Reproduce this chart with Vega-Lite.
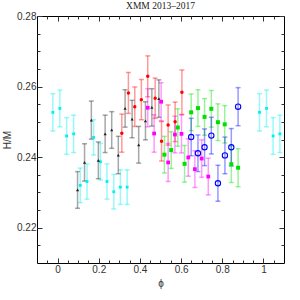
{
  "$schema": "https://vega.github.io/schema/vega-lite/v6.json",
  "autosize": "none",
  "width": 247,
  "height": 247,
  "padding": {"left": 37, "top": 16, "right": 16, "bottom": 37},
  "background": "white",
  "title": {"text": "XMM 2013–2017", "font": "Liberation Serif", "fontSize": 9.5, "fontWeight": "normal", "offset": 1, "color": "#222"},
  "config": {
    "view": {"stroke": "black", "strokeWidth": 1},
    "axis": {"grid": false, "domain": false, "labelFont": "Liberation Sans", "labelFontSize": 10, "labelColor": "#333", "titleFont": "Liberation Sans", "titleFontSize": 10, "titleFontWeight": "normal", "titleColor": "#333", "tickColor": "#333"}
  },
  "data": {"values": [
    {"s":"a","x":-0.023,"y":0.2527,"e":0.0053},
    {"s":"a","x":0.011,"y":0.2538,"e":0.0052},
    {"s":"a","x":0.044,"y":0.2460,"e":0.0052},
    {"s":"a","x":0.078,"y":0.2466,"e":0.0053},
    {"s":"a","x":0.110,"y":0.2320,"e":0.0049},
    {"s":"a","x":0.143,"y":0.2331,"e":0.0050},
    {"s":"a","x":0.175,"y":0.2456,"e":0.0050},
    {"s":"a","x":0.208,"y":0.2387,"e":0.0052},
    {"s":"a","x":0.240,"y":0.2331,"e":0.0050},
    {"s":"a","x":0.273,"y":0.2302,"e":0.0049},
    {"s":"a","x":0.305,"y":0.2315,"e":0.0049},
    {"s":"a","x":0.338,"y":0.2315,"e":0.0049},
    {"s":"a","x":0.981,"y":0.2527,"e":0.0053},
    {"s":"a","x":1.015,"y":0.2538,"e":0.0052},
    {"s":"a","x":1.047,"y":0.2460,"e":0.0052},
    {"s":"a","x":1.080,"y":0.2466,"e":0.0053},
    {"s":"b","x":0.097,"y":0.2307,"e":0.0052},
    {"s":"b","x":0.131,"y":0.2385,"e":0.0053},
    {"s":"b","x":0.164,"y":0.2505,"e":0.0054},
    {"s":"b","x":0.198,"y":0.2391,"e":0.0052},
    {"s":"b","x":0.231,"y":0.2466,"e":0.0053},
    {"s":"b","x":0.263,"y":0.2477,"e":0.0052},
    {"s":"b","x":0.295,"y":0.2406,"e":0.0053},
    {"s":"b","x":0.328,"y":0.2538,"e":0.0053},
    {"s":"b","x":0.362,"y":0.2508,"e":0.0053},
    {"s":"b","x":0.394,"y":0.2435,"e":0.0052},
    {"s":"b","x":0.427,"y":0.2503,"e":0.0054},
    {"s":"b","x":0.458,"y":0.2541,"e":0.0053},
    {"s":"b","x":0.492,"y":0.2566,"e":0.0053},
    {"s":"c","x":0.312,"y":0.2468,"e":0.0054},
    {"s":"c","x":0.344,"y":0.2582,"e":0.0058},
    {"s":"c","x":0.375,"y":0.2543,"e":0.0056},
    {"s":"c","x":0.407,"y":0.2563,"e":0.0057},
    {"s":"c","x":0.438,"y":0.2629,"e":0.0058},
    {"s":"c","x":0.474,"y":0.2567,"e":0.0057},
    {"s":"c","x":0.505,"y":0.2445,"e":0.0056},
    {"s":"c","x":0.537,"y":0.2491,"e":0.0057},
    {"s":"c","x":0.571,"y":0.2500,"e":0.0056},
    {"s":"c","x":0.604,"y":0.2584,"e":0.0063},
    {"s":"d","x":0.438,"y":0.2540,"e":0.0054},
    {"s":"d","x":0.469,"y":0.2467,"e":0.0053},
    {"s":"d","x":0.503,"y":0.2557,"e":0.0054},
    {"s":"d","x":0.537,"y":0.2385,"e":0.0054},
    {"s":"d","x":0.570,"y":0.2464,"e":0.0052},
    {"s":"d","x":0.602,"y":0.2466,"e":0.0054},
    {"s":"d","x":0.635,"y":0.2399,"e":0.0053},
    {"s":"d","x":0.667,"y":0.2366,"e":0.0052},
    {"s":"d","x":0.700,"y":0.2396,"e":0.0053},
    {"s":"d","x":0.732,"y":0.2345,"e":0.0052},
    {"s":"e","x":0.519,"y":0.2407,"e":0.0052},
    {"s":"e","x":0.552,"y":0.2420,"e":0.0052},
    {"s":"e","x":0.584,"y":0.2484,"e":0.0053},
    {"s":"e","x":0.617,"y":0.2381,"e":0.0052},
    {"s":"e","x":0.649,"y":0.2527,"e":0.0052},
    {"s":"e","x":0.682,"y":0.2539,"e":0.0052},
    {"s":"e","x":0.714,"y":0.2514,"e":0.0052},
    {"s":"e","x":0.747,"y":0.2537,"e":0.0052},
    {"s":"e","x":0.779,"y":0.2499,"e":0.0052},
    {"s":"e","x":0.812,"y":0.2493,"e":0.0053},
    {"s":"e","x":0.844,"y":0.2380,"e":0.0052},
    {"s":"e","x":0.877,"y":0.2370,"e":0.0054},
    {"s":"f","x":0.649,"y":0.2457,"e":0.0053},
    {"s":"f","x":0.682,"y":0.2411,"e":0.0052},
    {"s":"f","x":0.714,"y":0.2428,"e":0.0052},
    {"s":"f","x":0.747,"y":0.2461,"e":0.0052},
    {"s":"f","x":0.779,"y":0.2326,"e":0.0051},
    {"s":"f","x":0.813,"y":0.2405,"e":0.0052},
    {"s":"f","x":0.844,"y":0.2428,"e":0.0053},
    {"s":"f","x":0.877,"y":0.2543,"e":0.0054}
  ]},
  "layer": [
    {
      "mark": {"type": "errorbar", "ticks": {"size": 5}, "thickness": 1.5, "opacity": 0.4},
      "encoding": {
        "x": {"field": "x", "type": "quantitative", "title": "ϕ", "scale": {"domain": [-0.1, 1.1], "nice": false, "zero": false},
              "axis": {"orient": "bottom", "values": [0, 0.2, 0.4, 0.6, 0.8, 1], "format": "~g", "tickSize": -5, "labelPadding": 6, "titlePadding": 4}},
        "y": {"field": "y", "type": "quantitative", "title": "H/M", "scale": {"domain": [0.21, 0.28], "nice": false, "zero": false},
              "axis": {"orient": "left", "values": [0.22, 0.24, 0.26, 0.28], "format": ".2f", "tickSize": -5, "labelPadding": 6, "titlePadding": 4}},
        "yError": {"field": "e"},
        "color": {"field": "s", "type": "nominal", "legend": null,
                  "scale": {"domain": ["a","b","c","d","e","f"], "range": ["#00f0f0","#222222","#ff0000","#ff00ff","#00e000","#0000ff"]}}
      }
    },
    {
      "transform": [{"filter": "datum.s != 'f'"}],
      "mark": {"type": "point", "filled": true, "opacity": 1},
      "encoding": {
        "x": {"field": "x", "type": "quantitative", "axis": {"orient": "top", "values": [0, 0.2, 0.4, 0.6, 0.8, 1], "labels": false, "title": null, "tickSize": -5}},
        "y": {"field": "y", "type": "quantitative", "axis": {"orient": "right", "values": [0.22, 0.24, 0.26, 0.28], "labels": false, "title": null, "tickSize": -5}},
        "color": {"field": "s", "type": "nominal", "legend": null},
        "shape": {"field": "s", "type": "nominal", "legend": null,
                  "scale": {"domain": ["a","b","c","d","e"], "range": ["square","triangle-up","circle","square","square"]}},
        "size": {"field": "s", "type": "nominal", "legend": null,
                 "scale": {"domain": ["a","b","c","d","e"], "range": [8, 16, 22, 8, 14]}}
      }
    },
    {
      "transform": [{"filter": "datum.s == 'f'"}],
      "mark": {"type": "point", "filled": false, "color": "#0000ff", "size": 28, "strokeWidth": 1.1, "opacity": 1},
      "encoding": {
        "x": {"field": "x", "type": "quantitative", "axis": {"orient": "bottom", "values": [-0.05,0.05,0.1,0.15,0.25,0.3,0.35,0.45,0.5,0.55,0.65,0.7,0.75,0.85,0.9,0.95,1.05], "labels": false, "title": null, "tickSize": -3}},
        "y": {"field": "y", "type": "quantitative", "axis": {"orient": "left", "values": [0.215,0.225,0.23,0.235,0.245,0.25,0.255,0.265,0.27,0.275], "labels": false, "title": null, "tickSize": -3}}
      }
    },
    {
      "transform": [{"filter": "datum.s == 'f'"}],
      "mark": {"type": "point", "opacity": 0},
      "encoding": {
        "x": {"field": "x", "type": "quantitative", "axis": {"orient": "top", "values": [-0.05,0.05,0.1,0.15,0.25,0.3,0.35,0.45,0.5,0.55,0.65,0.7,0.75,0.85,0.9,0.95,1.05], "labels": false, "title": null, "tickSize": -3}},
        "y": {"field": "y", "type": "quantitative", "axis": {"orient": "right", "values": [0.215,0.225,0.23,0.235,0.245,0.25,0.255,0.265,0.27,0.275], "labels": false, "title": null, "tickSize": -3}}
      }
    }
  ],
  "resolve": {"axis": {"x": "independent", "y": "independent"}, "scale": {"x": "shared", "y": "shared"}}
}
